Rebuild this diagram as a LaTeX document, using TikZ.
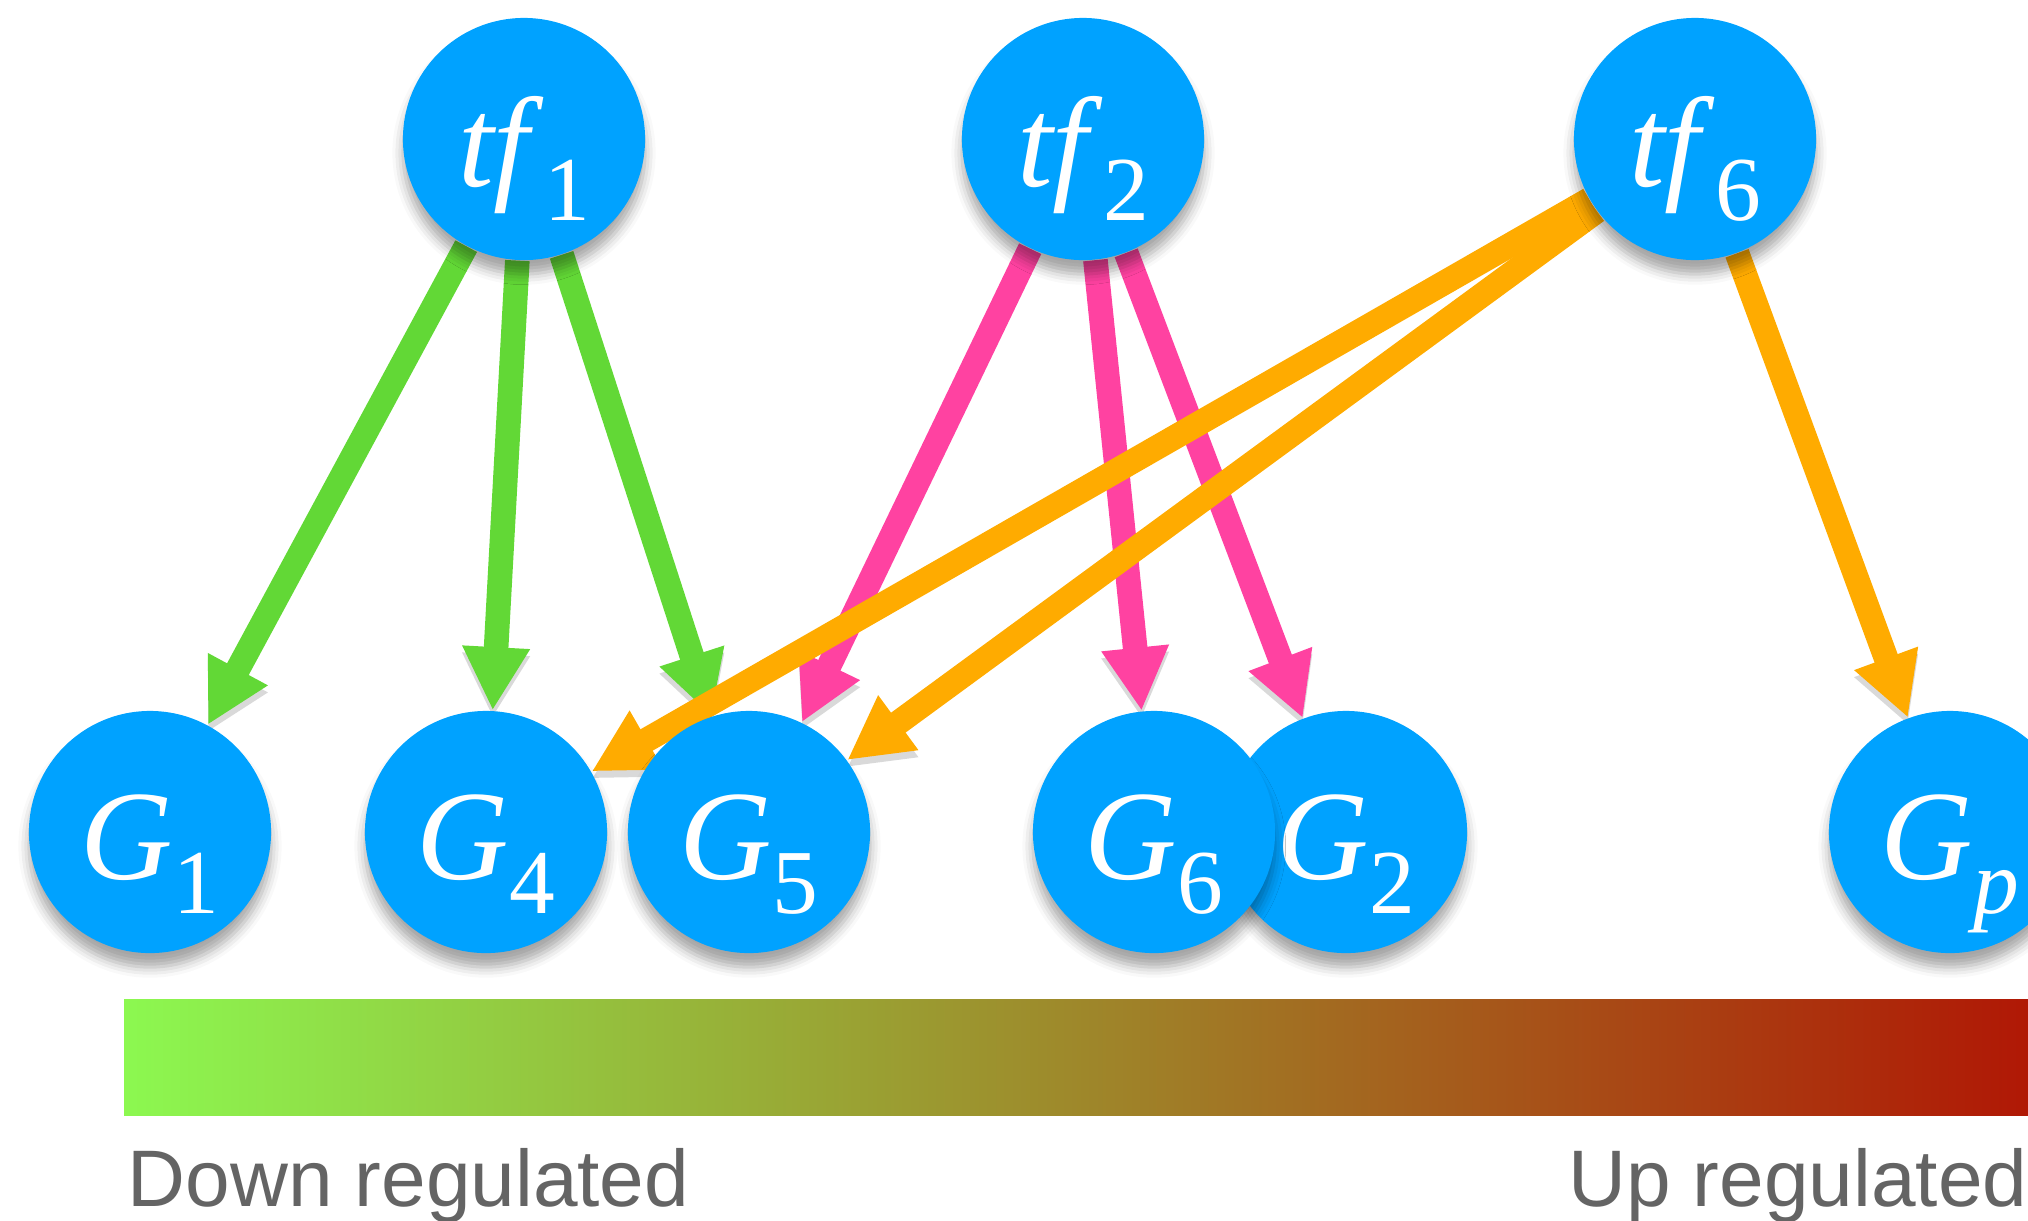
\documentclass[tikz,border=0pt]{standalone}
\usepackage{fontspec}
\setmainfont{Liberation Serif}
\setsansfont{Liberation Sans}
\usetikzlibrary{arrows.meta,shadows.blur,backgrounds}
\definecolor{nodeblue}{RGB}{0,162,255}
\definecolor{downgreen}{RGB}{98,216,54}
\definecolor{tfpink}{RGB}{255,66,161}
\definecolor{tforange}{RGB}{255,171,0}
\definecolor{barleft}{RGB}{140,248,80}
\definecolor{barright}{RGB}{176,24,5}
\definecolor{legendgray}{RGB}{100,100,100}
\newcommand{\nm}[2]{\textit{#1}\raisebox{-.27em}{\fontsize{26}{26}\selectfont #2}}

\begin{document}
\begin{tikzpicture}[x=0.01cm, y=-0.01cm]
 % styles for circles and regulation arrows
 \tikzset{gene/.style={circle, fill=nodeblue, minimum size=2.42cm, inner sep=0pt, text=white,
   font=\fontsize{36.4}{36.4}\selectfont, text height=26.8pt, text depth=0pt,
   blur shadow={shadow xshift=0pt, shadow yshift=-4pt, shadow blur radius=3pt, shadow opacity=35}},
  link/.style={line width=7pt, -{Triangle[length=18pt,width=18pt]},
   preaction={draw=black, opacity=.15, transform canvas={yshift=-2pt}}}}

 \useasboundingbox (0,0) rectangle (2028,1220);
 \clip (0,0) rectangle (2028,1220);

 %transcription factors
 \node[gene] (tf1) at (524,139) {\nm{tf}{1}};
 \node[gene] (tf2) at (1083,139) {\nm{tf}{2}};
 \node[gene] (tf6) at (1695,139) {\nm{tf}{6}};

 %target genes
 \node[gene] (G1) at (150,832) {\nm{G}{1}};
 \node[gene] (G4) at (486,832) {\nm{G}{4}};
 \node[gene] (G5) at (749,832) {\nm{G}{5}};
 \node[gene] (G2) at (1346,832) {\nm{G}{2}};
 \node[gene] (G6) at (1154,832) {\nm{G}{6}};
 \node[gene] (Gp) at (1950,832) {\nm{G}{\textit{p}}};

 %regulation arrows
 \begin{scope}[on background layer]
 \draw[link, downgreen] (tf1) -- (G1);
 \draw[link, downgreen] (tf1) -- (G4);
 \draw[link, downgreen] (tf1) -- (G5);
 \draw[link, tfpink] (tf2) -- (G5);
 \draw[link, tfpink] (tf2) -- (G6);
 \draw[link, tfpink] (tf2) -- (G2);
 \draw[link, tforange] (tf6) -- (G4);
 \draw[link, tforange] (tf6) -- (G5);
 \draw[link, tforange] (tf6) -- (Gp);
 \end{scope}

 %colour scale
 \fill[left color=barleft, right color=barright] (124,999) rectangle (2028,1115);
 \node[anchor=base west, inner sep=0pt, text=legendgray, font=\sffamily\fontsize{22.8}{22.8}\selectfont] (down) at (127,1206) {Down regulated};
 \node[anchor=base east, inner sep=0pt, text=legendgray, font=\sffamily\fontsize{22.8}{22.8}\selectfont] (up) at (2028,1206) {Up regulated};
\end{tikzpicture}
\end{document}
